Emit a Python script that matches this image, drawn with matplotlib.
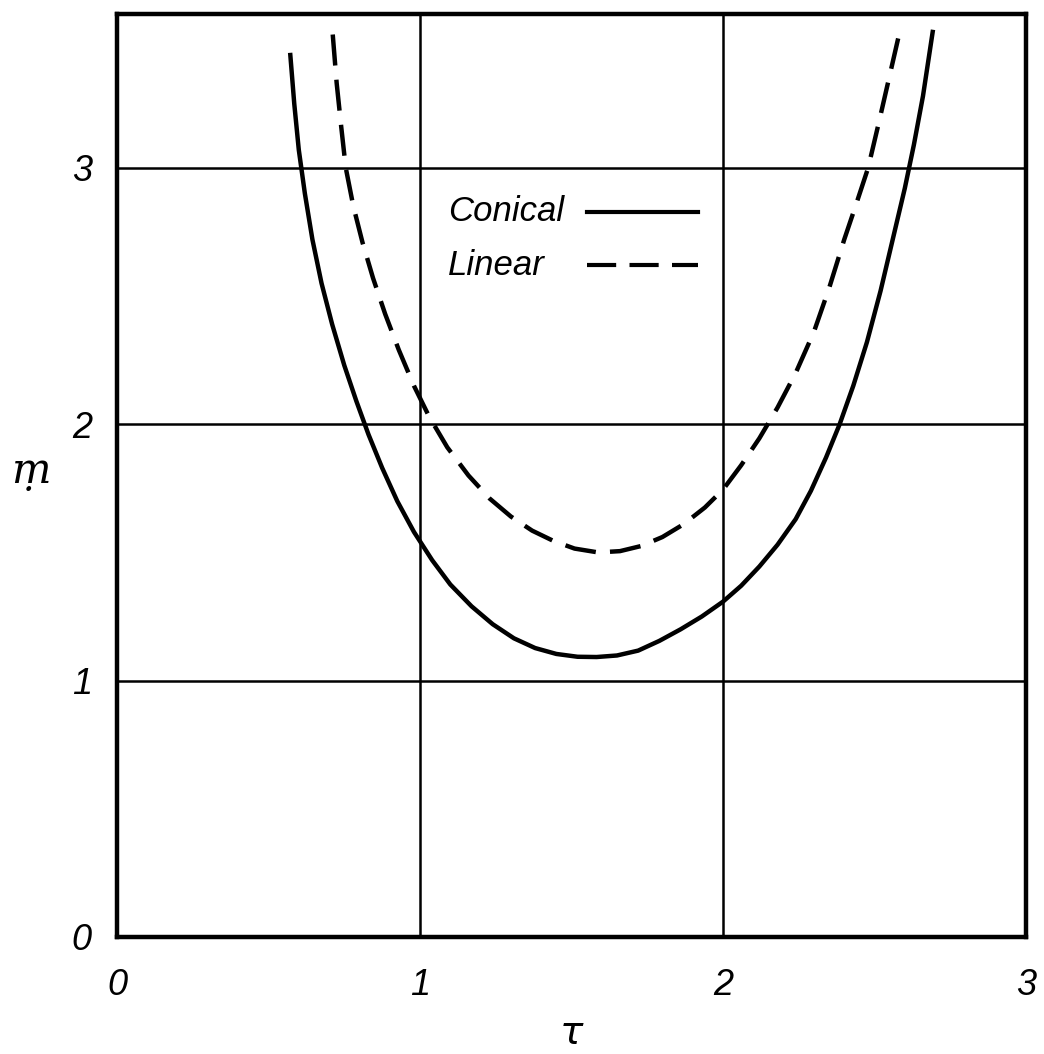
import numpy as np
import matplotlib
matplotlib.use("Agg")
import matplotlib.pyplot as plt

# Curvas: tau contra m (con punto debajo)
tau_conico = [0.572, 0.585, 0.600, 0.620, 0.645, 0.675, 0.710, 0.750, 0.790, 0.830,
              0.875, 0.925, 0.980, 1.040, 1.100, 1.170, 1.240, 1.310, 1.380, 1.450,
              1.520, 1.583, 1.650, 1.720, 1.790, 1.860, 1.930, 2.000, 2.060, 2.120,
              2.180, 2.240, 2.290, 2.340, 2.385, 2.430, 2.475, 2.520, 2.560, 2.600,
              2.630, 2.660, 2.692]
m_conico = [3.44, 3.25, 3.07, 2.90, 2.72, 2.55, 2.39, 2.23, 2.09, 1.96,
            1.83, 1.70, 1.58, 1.47, 1.375, 1.29, 1.22, 1.165, 1.127, 1.104,
            1.093, 1.092, 1.098, 1.117, 1.155, 1.200, 1.250, 1.308, 1.37, 1.445,
            1.53, 1.63, 1.74, 1.87, 2.00, 2.15, 2.32, 2.52, 2.72, 2.92,
            3.09, 3.28, 3.53]

tau_lineal = [0.712, 0.725, 0.740, 0.755, 0.780, 0.810, 0.845, 0.885, 0.930, 0.980,
              1.030, 1.090, 1.160, 1.230, 1.300, 1.370, 1.440, 1.510, 1.588, 1.660,
              1.730, 1.800, 1.870, 1.940, 2.000, 2.060, 2.120, 2.180, 2.240, 2.300,
              2.350, 2.400, 2.440, 2.479, 2.515, 2.550, 2.583]
m_lineal = [3.52, 3.33, 3.16, 3.00, 2.85, 2.71, 2.57, 2.43, 2.29, 2.15,
            2.03, 1.91, 1.80, 1.71, 1.64, 1.585, 1.545, 1.515, 1.500, 1.505,
            1.525, 1.56, 1.61, 1.675, 1.745, 1.84, 1.945, 2.065, 2.20, 2.36,
            2.53, 2.72, 2.86, 3.00, 3.18, 3.36, 3.53]

ticks_x = [0, 1, 2, 3]
ticks_y = [0, 1, 2, 3]

fuente = {"family": "Liberation Sans", "style": "italic", "size": 26}
fuente_ley = {"family": "Liberation Sans", "style": "italic", "size": 25}

fig = plt.figure(figsize=(10.44, 10.54), dpi=100)
ax = fig.add_axes([117 / 1044, 117 / 1054, 909 / 1044, 923 / 1054])

ax.plot(tau_conico, m_conico, color="black", lw=3.2, zorder=3)
ax.plot(tau_lineal, m_lineal, color="black", lw=3.2, dashes=(7, 3.2), zorder=3)

ax.set_xlim(0, 3)
ax.set_ylim(0, 3.60)
ax.set_xticks(ticks_x)
ax.set_yticks(ticks_y)
ax.set_xticklabels([str(t) for t in ticks_x], fontdict=fuente)
ax.set_yticklabels([str(t) for t in ticks_y], fontdict=fuente)
ax.tick_params(axis="x", length=0, pad=22)
ax.tick_params(axis="y", length=0, pad=18)

ax.grid(True, color="black", lw=1.8)
for s in ax.spines.values():
    s.set_linewidth(3.2)

ax.set_xlabel("τ", fontdict={"family": "DejaVu Sans", "style": "italic", "size": 28},
              labelpad=8)
ax.set_ylabel("ṃ", fontdict={"family": "DejaVu Serif", "style": "italic", "size": 30},
              rotation=0, ha="center", va="center")
ax.yaxis.set_label_coords(-0.095, 0.505)

# Leyenda a mano: texto alineado a la izquierda y muestra de linea a la derecha
for texto, y, estilo in [("Conical", 0.786, "-"), ("Linear", 0.728, "--")]:
    ax.text(0.364, y, texto, transform=ax.transAxes, ha="left", va="center",
            fontdict=fuente_ley)
    muestra = ax.plot([0.517, 0.639], [y, y], transform=ax.transAxes,
                      color="black", lw=3.0, zorder=3)[0]
    if estilo == "--":
        muestra.set_dashes((7, 3.2))

fig.savefig("out.png", dpi=100)
